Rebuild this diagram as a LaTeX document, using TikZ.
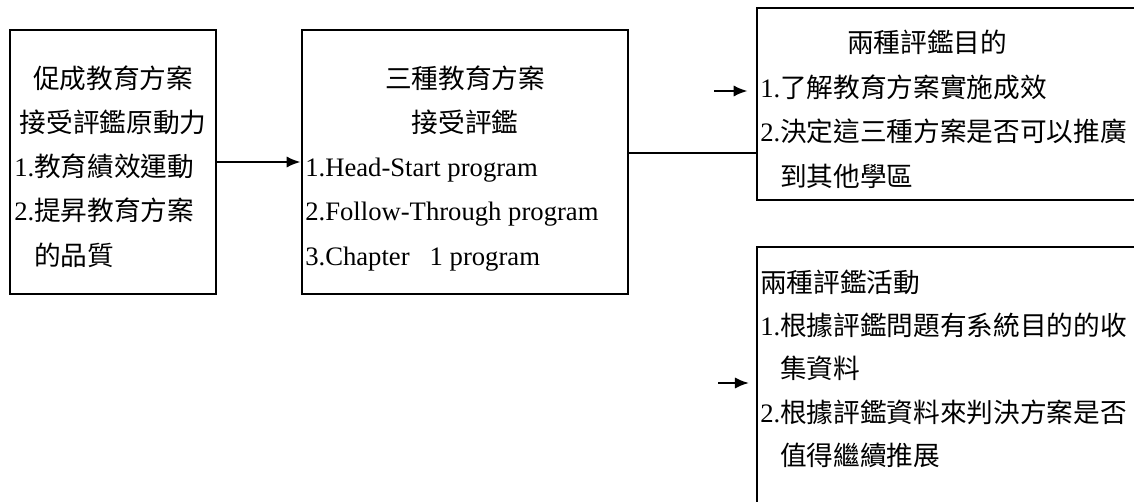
\documentclass[tikz,border=0pt]{standalone}
\usepackage{fontspec}
\setmainfont{Liberation Serif}
\newfontfamily\cjk{Noto Sans CJK TC}
\newcommand\zh[1]{{\cjk #1}}
\usetikzlibrary{arrows.meta,fit}
\begin{document}
\begin{tikzpicture}[x=0.75pt,y=-0.75pt,
  box/.style={draw,line width=2.1pt,inner sep=0pt},
  txt/.style={inner sep=0pt,font=\fontsize{20}{24}\selectfont},
  conn/.style={line width=1.6pt},
  arr/.style={conn,-{Latex[length=10.5pt,width=8.5pt]}}]
\useasboundingbox (0,0) rectangle (1134,502);
\clip (0,0) rectangle (1134,502);
% boxes
\node[box,fit={(10,30)(216,294)}] (box1) {};
\node[box,fit={(302,30)(628,294)}] (box2) {};
\node[box,fit={(757,8)(1160,200)}] (box3) {};
\node[box,fit={(757,247)(1160,530)}] (box4) {};
% box 1 text
\node[txt,anchor=base] (t1a) at (113,89) {\zh{促成教育方案}};
\node[txt,anchor=base] (t1b) at (113,133) {\zh{接受評鑑原動力}};
\node[txt,anchor=base west] (t1c) at (14,177) {1.\zh{教育績效運動}};
\node[txt,anchor=base west] (t1d) at (14,221) {2.\zh{提昇教育方案}};
\node[txt,anchor=base west] (t1e) at (14,265) {\phantom{2.}\zh{的品質}};
% box 2 text
\node[txt,anchor=base] (t2a) at (465,89) {\zh{三種教育方案}};
\node[txt,anchor=base] (t2b) at (465,133) {\zh{接受評鑑}};
\node[txt,anchor=base west] (t2c) at (305,177) {1.Head-Start program};
\node[txt,anchor=base west] (t2d) at (305,221) {2.Follow-Through program};
\node[txt,anchor=base west] (t2e) at (305,265) {3.Chapter\hspace{15pt}1 program};
% box 3 text
\node[txt,anchor=base] (t3a) at (927,53) {\zh{兩種評鑑目的}};
\node[txt,anchor=base west] (t3b) at (760,98) {1.\zh{了解教育方案實施成效}};
\node[txt,anchor=base west] (t3c) at (760,142) {2.\zh{決定這三種方案是否可以推廣}};
\node[txt,anchor=base west] (t3d) at (760,187) {\phantom{2.}\zh{到其他學區}};
% box 4 text
\node[txt,anchor=base west] (t4a) at (760,292) {\zh{兩種評鑑活動}};
\node[txt,anchor=base west] (t4b) at (760,335) {1.\zh{根據評鑑問題有系統目的的收}};
\node[txt,anchor=base west] (t4c) at (760,378) {\phantom{1.}\zh{集資料}};
\node[txt,anchor=base west] (t4d) at (760,422) {2.\zh{根據評鑑資料來判決方案是否}};
\node[txt,anchor=base west] (t4e) at (760,465) {\phantom{2.}\zh{值得繼續推展}};
% connectors
\draw[arr] (box1.east) -- (box2.west);
\path (box2.east) ++(0,-9) coordinate (c23);
\draw[conn] (c23) -- (c23 -| box3.west);
\coordinate (f3) at (714,91);
\draw[arr,shorten >=6pt] (f3) -- (f3 -| box3.west);
\coordinate (f4) at (718,383);
\draw[arr,shorten >=5pt] (f4) -- (f4 -| box4.west);
\end{tikzpicture}
\end{document}
